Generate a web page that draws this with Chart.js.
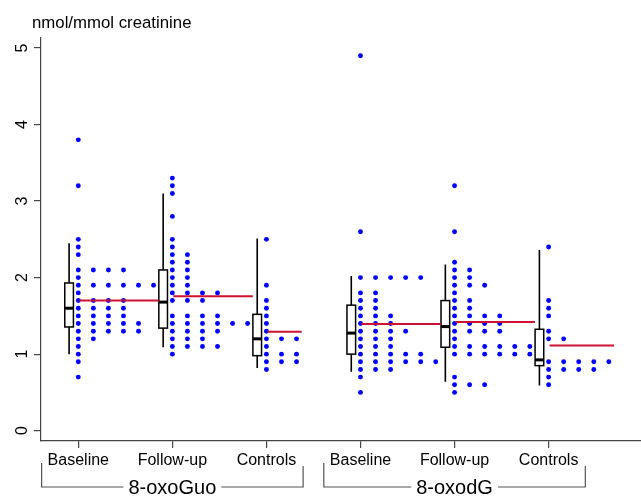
<!DOCTYPE html>
<html>
<head>
<meta charset="utf-8">
<script src="https://cdn.jsdelivr.net/npm/chart.js@4.4.1/dist/chart.umd.min.js"></script>
<style>
  html, body { margin: 0; padding: 0; background: #fff; }
  #wrap { width: 641px; height: 497px; position: relative; }
</style>
</head>
<body>
<div id="wrap"><canvas id="oxo"></canvas></div>
<script>
// categories and groups
const categories = ['Baseline', 'Follow-up', 'Controls', 'Baseline', 'Follow-up', 'Controls'];
const groups = ['8-oxoGuo', '8-oxodG'];
const groupMembers = [[0, 1, 2], [3, 4, 5]];
const yTicks = [0, 1, 2, 3, 4, 5];

// dot strips: [value, number of subjects at that value]
const guoBaseline = [[3.8,1],[3.2,1],[2.5,1],[2.4,1],[2.3,1],[2.1,4],[2.0,1],[1.9,6],[1.8,1],[1.7,4],[1.6,4],[1.5,4],[1.4,5],[1.3,5],[1.2,2],[1.1,1],[1.0,1],[0.9,1],[0.7,1]];
const guoFollowUp = [[3.3,1],[3.2,1],[3.1,1],[2.8,1],[2.5,1],[2.4,1],[2.3,2],[2.2,2],[2.1,2],[2.0,2],[1.9,2],[1.8,4],[1.7,3],[1.5,4],[1.4,6],[1.3,4],[1.2,3],[1.1,4],[1.0,1]];
const guoControls = [[2.5,1],[1.9,1],[1.7,1],[1.6,1],[1.5,1],[1.4,1],[1.3,1],[1.2,3],[1.1,1],[1.0,3],[0.9,3],[0.8,1]];
const dgBaseline = [[4.9,1],[2.6,1],[2.0,5],[1.8,2],[1.7,2],[1.6,2],[1.5,3],[1.4,3],[1.3,4],[1.2,3],[1.1,3],[1.0,5],[0.9,6],[0.8,3],[0.7,1],[0.5,1]];
const dgFollowUp = [[3.2,1],[2.6,1],[2.2,1],[2.1,2],[2.0,2],[1.9,3],[1.8,1],[1.7,2],[1.6,2],[1.5,4],[1.4,4],[1.3,4],[1.2,1],[1.1,6],[1.0,6],[0.7,1],[0.6,3],[0.5,1]];
const dgControls = [[2.4,1],[1.7,1],[1.6,1],[1.5,1],[1.3,1],[1.2,2],[0.9,5],[0.8,4],[0.7,1],[0.6,1]];
const strips = [guoBaseline, guoFollowUp, guoControls, dgBaseline, dgFollowUp, dgControls];

// box plots: [lower whisker, q1, median, q3, upper whisker]
const boxStats = [
  [1.00, 1.355, 1.60, 1.93, 2.45],
  [1.09, 1.34, 1.68, 2.10, 3.10],
  [0.82, 0.98, 1.20, 1.52, 2.51],
  [0.77, 1.00, 1.275, 1.64, 2.02],
  [0.64, 1.09, 1.36, 1.70, 2.17],
  [0.59, 0.85, 0.925, 1.325, 2.36]
];
const means = [1.70, 1.755, 1.294, 1.394, 1.42, 1.112];

const dotStep = 0.16;     // horizontal spacing of stacked dots (x units)
const boxShift = 0.098;   // box sits left of the dot column
const boxHalf = 0.046;
const FONT = '"Liberation Sans", Arial, Helvetica, sans-serif';

function stripPoints(pairs, pos) {
  const pts = [];
  pairs.forEach(([v, n]) => {
    for (let k = 0; k < n; k++) pts.push({ x: pos + k * dotStep, y: v });
  });
  return pts;
}

const datasets = [];
// mean lines first so they sit on top
strips.forEach((s, i) => {
  const pos = i + 1;
  const widest = Math.max(...s.map(p => p[1]));
  datasets.push({
    data: [{ x: pos + 0.01, y: means[i] }, { x: pos + (widest - 1) * dotStep + 0.055, y: means[i] }],
    showLine: true,
    borderColor: '#cc1133',
    borderWidth: 2,
    pointRadius: 0
  });
});
strips.forEach((s, i) => {
  datasets.push({
    data: stripPoints(s, i + 1),
    pointRadius: 2.45,
    pointBorderWidth: 0,
    backgroundColor: '#0000ff',
    borderColor: '#0000ff'
  });
});

const boxPlugin = {
  id: 'boxes',
  beforeDatasetsDraw(chart) {
    const { ctx, scales: { x, y } } = chart;
    ctx.save();
    ctx.strokeStyle = '#000';
    boxStats.forEach((b, i) => {
      const cx = x.getPixelForValue(i + 1 - boxShift);
      const l = x.getPixelForValue(i + 1 - boxShift - boxHalf);
      const r = x.getPixelForValue(i + 1 - boxShift + boxHalf);
      const [lo, q1, med, q3, hi] = b.map(v => y.getPixelForValue(v));
      ctx.lineWidth = 1.6;
      ctx.beginPath();
      ctx.moveTo(cx, hi); ctx.lineTo(cx, q3);
      ctx.moveTo(cx, q1); ctx.lineTo(cx, lo);
      ctx.stroke();
      ctx.fillStyle = '#fff';
      ctx.fillRect(l, q3, r - l, q1 - q3);
      ctx.lineWidth = 1.5;
      ctx.strokeRect(l, q3, r - l, q1 - q3);
      ctx.lineWidth = 3;
      ctx.beginPath();
      ctx.moveTo(l, med); ctx.lineTo(r, med);
      ctx.stroke();
    });
    ctx.restore();
  }
};

const textPlugin = {
  id: 'texts',
  afterDraw(chart) {
    const { ctx, scales: { x, y } } = chart;
    ctx.save();
    ctx.fillStyle = '#000';
    // unit title
    ctx.font = '16.8px ' + FONT;
    ctx.textAlign = 'left';
    ctx.textBaseline = 'alphabetic';
    ctx.fillText('nmol/mmol creatinine', 32, 28);
    // y tick labels, rotated
    ctx.font = '16px ' + FONT;
    ctx.textAlign = 'center';
    yTicks.forEach(t => {
      ctx.save();
      ctx.translate(27, y.getPixelForValue(t));
      ctx.rotate(-Math.PI / 2);
      ctx.fillText(String(t), 0, 0);
      ctx.restore();
    });
    // category labels
    categories.forEach((c, i) => {
      ctx.fillText(c, x.getPixelForValue(i + 1), 465);
    });
    // group brackets
    ctx.font = '20px ' + FONT;
    ctx.strokeStyle = '#555';
    ctx.lineWidth = 1.2;
    groups.forEach((g, gi) => {
      const m = groupMembers[gi];
      const l = x.getPixelForValue(m[0] + 1 - 0.39);
      const r = x.getPixelForValue(m[m.length - 1] + 1 + 0.39);
      const mid = (l + r) / 2;
      const w = ctx.measureText(g).width;
      const ly = 487;
      ctx.beginPath();
      ctx.moveTo(l, 463); ctx.lineTo(l, ly); ctx.lineTo(mid - w / 2 - 5, ly);
      ctx.moveTo(mid + w / 2 + 5, ly); ctx.lineTo(r, ly); ctx.lineTo(r, 466);
      ctx.stroke();
      ctx.fillText(g, mid, 493.5);
    });
    ctx.restore();
  }
};

new Chart(document.getElementById('oxo'), {
  type: 'scatter',
  data: { datasets: datasets },
  options: {
    responsive: true,
    maintainAspectRatio: false,
    animation: false,
    layout: { autoPadding: false, padding: { top: 38, right: 0, bottom: 0, left: 0 } },
    plugins: { legend: { display: false }, tooltip: { enabled: false } },
    scales: {
      x: {
        type: 'linear',
        min: 0.6034,
        max: 6.982,
        afterBuildTicks: s => { s.ticks = categories.map((c, i) => ({ value: i + 1 })); },
        afterFit: s => { s.height = 56; },
        ticks: { display: false },
        grid: { drawOnChartArea: false, drawTicks: true, tickLength: 7, color: '#444', lineWidth: 1.2 },
        border: { display: true, color: '#444', width: 1.2 }
      },
      y: {
        type: 'linear',
        min: -0.135,
        max: 5.131,
        afterBuildTicks: s => { s.ticks = yTicks.map(v => ({ value: v })); },
        afterFit: s => { s.width = 41; },
        ticks: { display: false },
        grid: { drawOnChartArea: false, drawTicks: true, tickLength: 7, color: '#444', lineWidth: 1.2 },
        border: { display: true, color: '#444', width: 1.2 }
      }
    }
  },
  plugins: [boxPlugin, textPlugin]
});
</script>
</body>
</html>
